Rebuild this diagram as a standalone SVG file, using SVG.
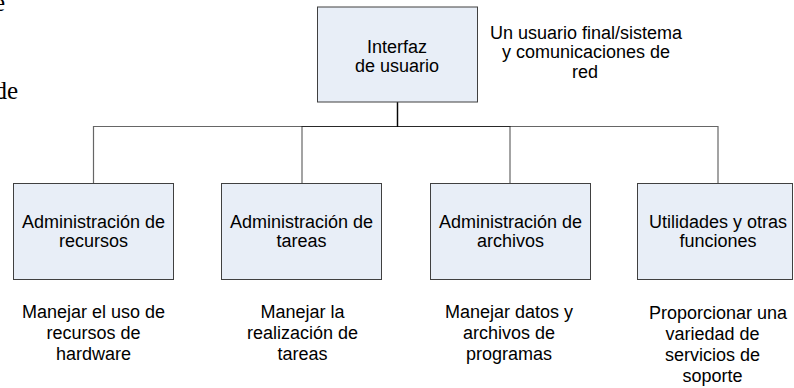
<svg xmlns="http://www.w3.org/2000/svg" width="794" height="388" viewBox="0 0 794 388">
  <style>
    .box{fill:#E8EEF7;stroke:#404040;stroke-width:1}
    .t{font-family:"Liberation Sans",Arial,sans-serif;font-size:18px;fill:#000;text-anchor:middle}
    .s{font-family:"Liberation Serif","Times New Roman",serif;font-size:25px;fill:#000}
    .c{fill:none;stroke:#000;stroke-opacity:0.6;stroke-width:1.2}
  </style>
  <rect width="794" height="388" fill="#fff"/>
  <g id="page-fragments">
    <text class="s" x="-6" y="11">e</text>
    <text class="s" x="-5.6" y="99">de</text>
  </g>
  <g id="connectors">
    <path class="c" d="M397.5 102 V126.5 H93.5 V183.5"/>
    <path class="c" d="M397.5 102 V126.5 H302 V183.5"/>
    <path class="c" d="M397.5 102 V126.5 H510 V183.5"/>
    <path class="c" d="M397.5 102 V126.5 H718 V183.5"/>
  </g>
  <g id="interfaz">
    <rect class="box" x="317.5" y="7" width="160" height="95"/>
    <text class="t" x="397" y="53">Interfaz</text>
    <text class="t" x="397" y="72">de usuario</text>
  </g>
  <g id="nota-interfaz">
    <text class="t" x="586" y="39">Un usuario final/sistema</text>
    <text class="t" x="586" y="58">y comunicaciones de</text>
    <text class="t" x="585" y="78">red</text>
  </g>
  <g id="recursos">
    <rect class="box" x="13.5" y="183.5" width="160" height="96"/>
    <text class="t" x="93.5" y="228">Administración de</text>
    <text class="t" x="93.5" y="247">recursos</text>
  </g>
  <g id="tareas">
    <rect class="box" x="221.5" y="183.5" width="160" height="96"/>
    <text class="t" x="301.5" y="228">Administración de</text>
    <text class="t" x="301.5" y="247">tareas</text>
  </g>
  <g id="archivos">
    <rect class="box" x="430.5" y="183.5" width="160" height="96"/>
    <text class="t" x="510.5" y="228">Administración de</text>
    <text class="t" x="510.5" y="247">archivos</text>
  </g>
  <g id="utilidades">
    <rect class="box" x="637.5" y="183.5" width="155" height="96"/>
    <text class="t" x="718" y="228">Utilidades y otras</text>
    <text class="t" x="718" y="247">funciones</text>
  </g>
  <g id="nota-recursos">
    <text class="t" x="93.5" y="318">Manejar el uso de</text>
    <text class="t" x="93.5" y="339">recursos de</text>
    <text class="t" x="93.5" y="360">hardware</text>
  </g>
  <g id="nota-tareas">
    <text class="t" x="302.5" y="318">Manejar la</text>
    <text class="t" x="302.5" y="339">realización de</text>
    <text class="t" x="302.5" y="360">tareas</text>
  </g>
  <g id="nota-archivos">
    <text class="t" x="509" y="318">Manejar datos y</text>
    <text class="t" x="509" y="339">archivos de</text>
    <text class="t" x="509" y="360">programas</text>
  </g>
  <g id="nota-utilidades">
    <text class="t" x="718" y="319">Proporcionar una</text>
    <text class="t" x="712.5" y="340">variedad de</text>
    <text class="t" x="712.5" y="361">servicios de</text>
    <text class="t" x="712.5" y="382">soporte</text>
  </g>
</svg>
